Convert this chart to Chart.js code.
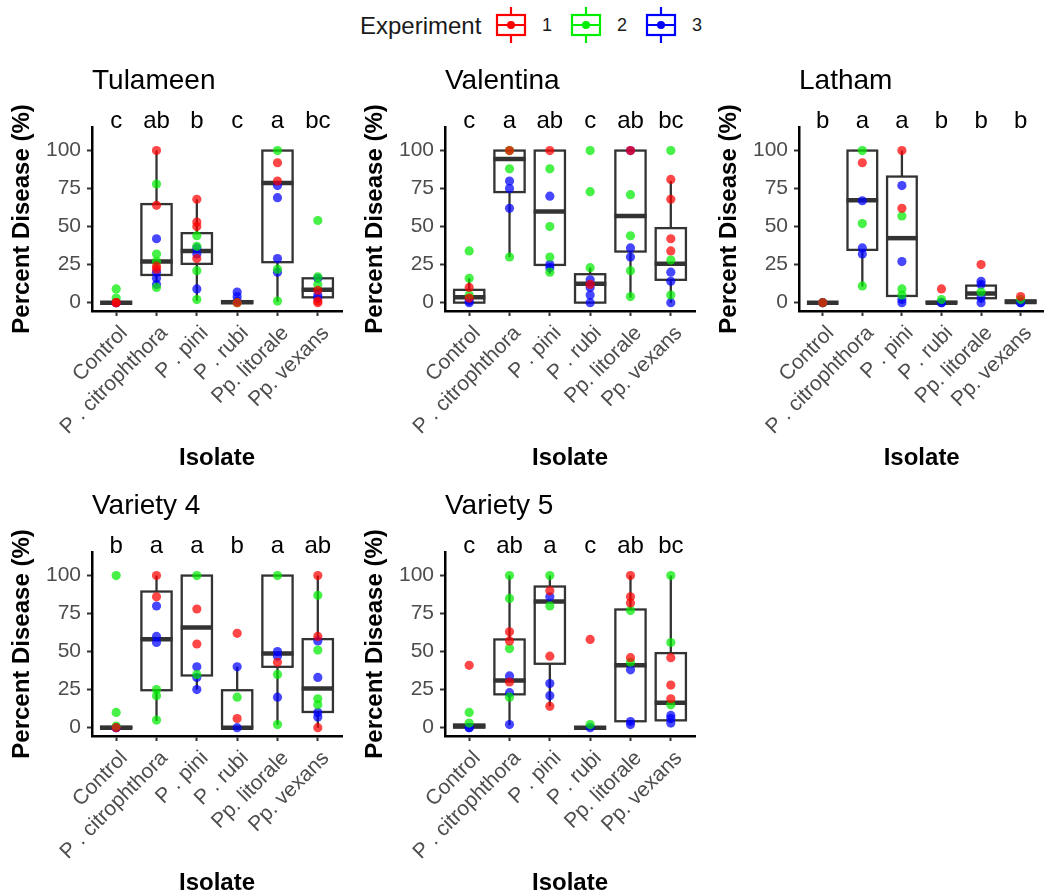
<!DOCTYPE html>
<html>
<head>
<meta charset="utf-8">
<script src="https://cdn.jsdelivr.net/npm/chart.js@4.4.0/dist/chart.umd.min.js"></script>
<style>
  body { margin: 0; background: #fff; width: 1044px; height: 896px; overflow: hidden; position: relative;
         font-family: "Liberation Sans", Arial, sans-serif; }
  canvas.panel { position: absolute; }
  .lg { position: absolute; color: #1a1a1a; }
</style>
</head>
<body>
<div class="lg" style="left:360px;top:12px;font-size:24px;">Experiment</div>
<canvas class="lg" id="key1" width="34" height="40" style="left:494px;top:5px"></canvas>
<div class="lg" style="left:542px;top:15px;font-size:18px;">1</div>
<canvas class="lg" id="key2" width="34" height="40" style="left:569px;top:5px"></canvas>
<div class="lg" style="left:617px;top:15px;font-size:18px;">2</div>
<canvas class="lg" id="key3" width="34" height="40" style="left:644px;top:5px"></canvas>
<div class="lg" style="left:692px;top:15px;font-size:18px;">3</div>

<canvas class="panel" id="p1" width="350" height="425" style="left:0px;top:50px"></canvas>
<canvas class="panel" id="p2" width="350" height="425" style="left:353px;top:50px"></canvas>
<canvas class="panel" id="p3" width="342" height="425" style="left:707px;top:50px"></canvas>
<canvas class="panel" id="p4" width="350" height="425" style="left:0px;top:475px"></canvas>
<canvas class="panel" id="p5" width="350" height="425" style="left:353px;top:475px"></canvas>

<script>
// categories and ticks
const ISOLATES = ['Control', 'P . citrophthora', 'P . pini', 'P . rubi', 'Pp. litorale', 'Pp. vexans'];
const Y_TICKS = [0, 25, 50, 75, 100];
const EXPERIMENTS = ['1', '2', '3'];

// --- Tulameen ---
const TUL_LETTERS = ['c', 'ab', 'b', 'c', 'a', 'bc'];
const TUL_E1 = [[0, 0], [100, 64, 24, 22], [68, 53, 50, 29], [0], [92, 80], [8, 1, 0]];
const TUL_E2 = [[9, 3], [78, 32, 27, 10], [44, 37, 21, 2], [0], [100, 22, 1], [54, 17, 12]];
const TUL_E3 = [[0, 0], [42, 20, 16, 12], [36, 32, 9], [7, 4, 1], [77, 69, 29, 20], [16, 5, 3]];
const TUL_Q1 = [0, 18.2, 25.5, 0, 26.6, 3.5];
const TUL_MED = [0, 27, 34, 0.3, 78.7, 8.4];
const TUL_Q3 = [0, 64.8, 45.7, 1, 100, 16];
const TUL_LO = [0, 11.6, 1.3, 0, 0.7, 0];
const TUL_HI = [0, 100, 68, 1, 100, 17];

// --- Valentina ---
const VAL_LETTERS = ['c', 'a', 'ab', 'c', 'ab', 'bc'];
const VAL_E1 = [[10, 3], [100], [100], [12], [100], [81, 68, 42, 34]];
const VAL_E2 = [[34, 16, 5], [100, 88, 30], [88, 50, 30, 20], [100, 73, 23], [71, 44, 21, 4], [100, 28, 5]];
const VAL_E3 = [[0, 1], [80, 75, 62], [70, 25, 23], [15, 10, 5, 0], [100, 36, 30], [20, 14, 0]];
const VAL_Q1 = [0, 72.7, 24.8, 0, 33.6, 15];
const VAL_MED = [3.5, 94.5, 60, 12.5, 57, 25.5];
const VAL_Q3 = [8.4, 100, 100, 18.7, 100, 49];
const VAL_LO = [0, 30, 19, 0, 3.3, 0];
const VAL_HI = [16, 100, 100, 23, 100, 80];

// --- Latham ---
const LAT_LETTERS = ['b', 'a', 'a', 'b', 'b', 'b'];
const LAT_E1 = [[0], [92], [100, 62], [9], [25], [4]];
const LAT_E2 = [[0], [100, 52, 11], [57, 9, 5], [2], [7], [2]];
const LAT_E3 = [[0, 0], [67, 36, 32], [77, 27, 2, 0], [0, 0], [14, 12, 3, 0], [0, 0]];
const LAT_Q1 = [0, 34.7, 4.4, 0, 2.9, 0];
const LAT_MED = [0, 67.3, 42.4, 0, 6, 0.5];
const LAT_Q3 = [0, 100, 82.9, 0.5, 11.2, 1.5];
const LAT_LO = [0, 10.5, 0, 0, 0, 0];
const LAT_HI = [0, 100, 100, 1, 14, 2];

// --- Variety 4 ---
const V4_LETTERS = ['b', 'a', 'a', 'b', 'a', 'ab'];
const V4_E1 = [[0], [100, 86], [78, 55], [62, 6], [43], [100, 60, 0]];
const V4_E2 = [[100, 10, 1], [25, 21, 5], [100, 35], [20], [100, 35, 2], [87, 51, 19, 15]];
const V4_E3 = [[0, 0], [80, 60, 56], [40, 33, 25], [40, 0], [50, 47, 20], [57, 33, 10, 7]];
const V4_Q1 = [0, 24.6, 34.3, 0, 40, 10.3];
const V4_MED = [0, 58.2, 65.9, 0, 48.8, 25.7];
const V4_Q3 = [0.5, 89.5, 100, 24.6, 100, 58.2];
const V4_LO = [0, 4.4, 25, 0, 2, 0];
const V4_HI = [0, 100, 100, 40, 100, 100];

// --- Variety 5 ---
const V5_LETTERS = ['c', 'ab', 'a', 'c', 'ab', 'bc'];
const V5_E1 = [[41], [63, 57, 30], [90, 47, 14], [58], [100, 86, 82, 46], [46, 28, 19]];
const V5_E2 = [[10, 3], [100, 85, 52, 20], [100, 80], [2], [77, 43], [100, 56, 15]];
const V5_E3 = [[0, 0], [34, 23, 2], [86, 29, 21], [0], [38, 4, 2], [8, 6, 3]];
const V5_Q1 = [0, 21.9, 42, 0, 4.2, 4.8];
const V5_MED = [1, 31, 83, 0, 41, 16.4];
const V5_Q3 = [2, 58, 92.8, 0, 77.7, 49];
const V5_LO = [0, 1.5, 14, 0, 2, 3];
const V5_HI = [3, 100, 100, 0, 100, 100];

const POINT_COLORS = ['rgba(255, 0, 0, 0.72)', 'rgba(0, 235, 0, 0.72)', 'rgba(0, 0, 255, 0.72)'];
const KEY_COLORS = ['#ff0000', '#00ee00', '#0000ff'];
const FONT = '"Liberation Sans", Arial, sans-serif';
const BOX_W = 0.75;

// box, whiskers, titles and letters drawn through the chart scales
const boxPlugin = {
  id: 'boxes',
  beforeDatasetsDraw(chart, args, opts) {
    const { ctx, scales: { x, y } } = chart;
    const b = opts.stats;
    ctx.save();
    ctx.strokeStyle = '#333333';
    ctx.lineCap = 'butt';
    for (let i = 0; i < b.med.length; i++) {
      const cx = x.getPixelForValue(i + 1);
      const l = x.getPixelForValue(i + 1 - BOX_W / 2);
      const r = x.getPixelForValue(i + 1 + BOX_W / 2);
      const top = y.getPixelForValue(b.q3[i]);
      const bot = y.getPixelForValue(b.q1[i]);
      ctx.lineWidth = 2.3;
      ctx.beginPath();
      ctx.moveTo(cx, y.getPixelForValue(b.lo[i]));
      ctx.lineTo(cx, bot);
      ctx.moveTo(cx, top);
      ctx.lineTo(cx, y.getPixelForValue(b.hi[i]));
      ctx.stroke();
      ctx.fillStyle = '#ffffff';
      ctx.fillRect(l, top, r - l, bot - top);
      ctx.strokeRect(l, top, r - l, bot - top);
      ctx.lineWidth = 4.5;
      const m = y.getPixelForValue(b.med[i]);
      ctx.beginPath();
      ctx.moveTo(l - 1, m);
      ctx.lineTo(r + 1, m);
      ctx.stroke();
    }
    ctx.restore();
  },
  afterDraw(chart, args, opts) {
    const { ctx, chartArea, scales: { x } } = chart;
    ctx.save();
    ctx.fillStyle = '#000';
    ctx.textBaseline = 'alphabetic';
    ctx.textAlign = 'left';
    ctx.font = '28px ' + FONT;
    ctx.fillText(opts.title, chartArea.left, chartArea.top - 38);
    ctx.textAlign = 'center';
    ctx.font = '24px ' + FONT;
    opts.letters.forEach((t, i) => {
      ctx.fillText(t, x.getPixelForValue(i + 1), chartArea.top + 1);
    });
    ctx.restore();
  }
};

function toPoints(groups) {
  const pts = [];
  groups.forEach((vals, ci) => vals.forEach(v => pts.push({ x: ci + 1, y: v })));
  return pts;
}

function makePanel(id, title, letters, series, stats, rightPad) {
  const datasets = series.map((s, k) => ({
    label: EXPERIMENTS[k],
    data: toPoints(s),
    backgroundColor: POINT_COLORS[k],
    borderWidth: 0,
    pointRadius: 4.6,
    pointHoverRadius: 4.6
  }));

  new Chart(document.getElementById(id), {
    type: 'scatter',
    data: { datasets },
    options: {
      responsive: false,
      animation: false,
      events: [],
      layout: { padding: { top: 77, left: 0, right: rightPad, bottom: 0 } },
      plugins: {
        legend: { display: false },
        tooltip: { enabled: false },
        boxes: { stats, letters, title }
      },
      scales: {
        x: {
          type: 'linear',
          min: 0.4,
          max: 6.6,
          afterBuildTicks: s => { s.ticks = ISOLATES.map((c, i) => ({ value: i + 1 })); },
          afterFit: s => { s.height = 164; },
          ticks: {
            autoSkip: false,
            minRotation: 45,
            maxRotation: 45,
            padding: 5,
            labelOffset: 8,
            color: '#4d4d4d',
            font: { family: FONT, size: 21 },
            callback: v => ISOLATES[v - 1]
          },
          grid: { drawOnChartArea: false, drawTicks: true, tickLength: 5, tickWidth: 2, tickColor: '#333' },
          border: { display: true, color: '#000', width: 2.5 },
          title: { display: true, text: 'Isolate', color: '#000', padding: { top: 4, bottom: 2 },
                   font: { family: FONT, size: 24, weight: 'bold' } }
        },
        y: {
          min: -5.5,
          max: 115.5,
          afterBuildTicks: s => { s.ticks = Y_TICKS.map(v => ({ value: v })); },
          afterFit: s => { s.width = 92; },
          ticks: {
            padding: 6,
            color: '#4d4d4d',
            font: { family: FONT, size: 21 }
          },
          grid: { drawOnChartArea: false, drawTicks: true, tickLength: 5, tickWidth: 2, tickColor: '#333' },
          border: { display: true, color: '#000', width: 2.5 },
          title: { display: true, text: 'Percent Disease (%)', color: '#000', padding: { top: 8, bottom: 4 },
                   font: { family: FONT, size: 24, weight: 'bold' } }
        }
      }
    },
    plugins: [boxPlugin]
  });
}

makePanel('p1', 'Tulameen', TUL_LETTERS, [TUL_E1, TUL_E2, TUL_E3],
  { q1: TUL_Q1, med: TUL_MED, q3: TUL_Q3, lo: TUL_LO, hi: TUL_HI }, 8);
makePanel('p2', 'Valentina', VAL_LETTERS, [VAL_E1, VAL_E2, VAL_E3],
  { q1: VAL_Q1, med: VAL_MED, q3: VAL_Q3, lo: VAL_LO, hi: VAL_HI }, 8);
makePanel('p3', 'Latham', LAT_LETTERS, [LAT_E1, LAT_E2, LAT_E3],
  { q1: LAT_Q1, med: LAT_MED, q3: LAT_Q3, lo: LAT_LO, hi: LAT_HI }, 0);
makePanel('p4', 'Variety 4', V4_LETTERS, [V4_E1, V4_E2, V4_E3],
  { q1: V4_Q1, med: V4_MED, q3: V4_Q3, lo: V4_LO, hi: V4_HI }, 8);
makePanel('p5', 'Variety 5', V5_LETTERS, [V5_E1, V5_E2, V5_E3],
  { q1: V5_Q1, med: V5_MED, q3: V5_Q3, lo: V5_LO, hi: V5_HI }, 8);

// legend keys: small box-plot glyphs
KEY_COLORS.forEach((c, k) => {
  const ctx = document.getElementById('key' + (k + 1)).getContext('2d');
  ctx.strokeStyle = c;
  ctx.fillStyle = c;
  ctx.lineWidth = 2.2;
  ctx.beginPath();
  ctx.moveTo(17, 2); ctx.lineTo(17, 10);
  ctx.moveTo(17, 30); ctx.lineTo(17, 38);
  ctx.moveTo(3, 20); ctx.lineTo(31, 20);
  ctx.stroke();
  ctx.strokeRect(3, 10, 28, 20);
  ctx.beginPath();
  ctx.arc(17, 20, 4, 0, Math.PI * 2);
  ctx.fill();
});
</script>
</body>
</html>
